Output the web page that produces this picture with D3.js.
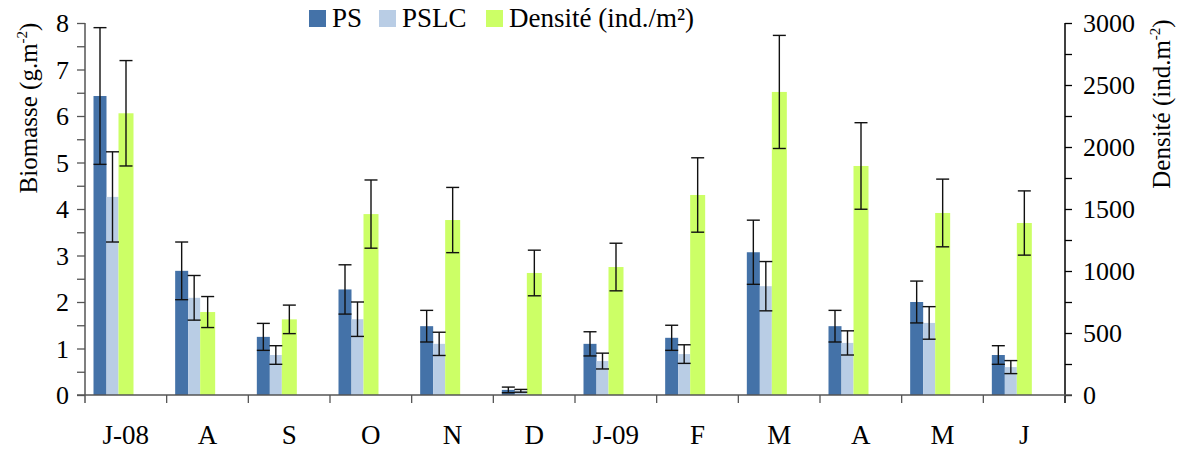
<!DOCTYPE html>
<html>
<head>
<meta charset="utf-8">
<script src="https://cdn.jsdelivr.net/npm/d3@7"></script>
<style>
  body { margin: 0; background: #fff; }
  svg text { font-family: "Liberation Serif", "Times New Roman", serif; fill: #000; }
</style>
</head>
<body>
<div id="chart"></div>
<script>
// ---- data ----
const months   = ["J-08", "A", "S", "O", "N", "D", "J-09", "F", "M", "A", "M", "J"];
const ps       = [6.43, 2.67, 1.25, 2.27, 1.48, 0.11, 1.10, 1.23, 3.07, 1.48, 2.00, 0.86];
const psErr    = [1.47, 0.62, 0.29, 0.53, 0.34, 0.06, 0.26, 0.27, 0.69, 0.34, 0.45, 0.20];
const pslc     = [4.26, 2.09, 0.86, 1.63, 1.10, 0.09, 0.73, 0.88, 2.34, 1.12, 1.55, 0.60];
const pslcErr  = [0.97, 0.48, 0.20, 0.37, 0.25, 0.03, 0.17, 0.20, 0.53, 0.26, 0.35, 0.14];
const dens     = [2272, 669, 610, 1459, 1411, 984, 1032, 1613, 2444, 1847, 1468, 1387];
const densErr  = [425, 125, 115, 275, 263, 184, 192, 300, 456, 349, 273, 259];

const leftTicks  = [0, 1, 2, 3, 4, 5, 6, 7, 8];
const rightTicks = [0, 500, 1000, 1500, 2000, 2500, 3000];

// ---- layout ----
const width = 1178, height = 450;
const plot = { left: 85, right: 1065, top: 23, bottom: 395 };

const colPS   = "#4472a8";
const colPSLC = "#b9cde5";
const colDens = "#ccff66";
const tickFont  = 26;
const labelFont = 27;

const svg = d3.select("#chart").append("svg")
  .attr("width", width)
  .attr("height", height);

// months repeat (A, M) so the band scale is keyed on the index
const x = d3.scaleBand()
  .domain(d3.range(months.length))
  .range([plot.left, plot.right])
  .padding(0);

const yL = d3.scaleLinear().domain([0, 8]).range([plot.bottom, plot.top]);
const yR = d3.scaleLinear().domain([0, 3000]).range([plot.bottom, plot.top]);

// bar slots inside each month band
const series = [
  { vals: ps,   errs: psErr,   y: yL, color: colPS,   off: 8.5,  w: 13 },
  { vals: pslc, errs: pslcErr, y: yL, color: colPSLC, off: 21.5, w: 12 },
  { vals: dens, errs: densErr, y: yR, color: colDens, off: 33.5, w: 15 }
];

// bars
series.forEach(s => {
  svg.append("g").selectAll("rect")
    .data(s.vals)
    .join("rect")
    .attr("x", (d, i) => x(i) + s.off)
    .attr("width", s.w)
    .attr("y", d => s.y(d))
    .attr("height", d => plot.bottom - s.y(d))
    .attr("fill", s.color);
});

// error bars
series.forEach(s => {
  const g = svg.append("g").attr("stroke", "#111").attr("stroke-width", 1.4);
  s.vals.forEach((v, i) => {
    const cx = x(i) + s.off + s.w / 2;
    const y1 = s.y(v + s.errs[i]);
    const y2 = s.y(Math.max(0, v - s.errs[i]));
    const hw = 6.5;
    g.append("line").attr("x1", cx).attr("x2", cx).attr("y1", y1).attr("y2", y2);
    g.append("line").attr("x1", cx - hw).attr("x2", cx + hw).attr("y1", y1).attr("y2", y1);
    g.append("line").attr("x1", cx - hw).attr("x2", cx + hw).attr("y1", y2).attr("y2", y2);
  });
});

// left axis
const leftAxis = svg.append("g")
  .attr("transform", `translate(${plot.left},0)`)
  .call(d3.axisLeft(yL).tickValues(d3.range(0, 8.01, 0.5)).tickSize(8).tickFormat(""));
leftAxis.select(".domain").remove();
leftAxis.selectAll("line").attr("stroke", "#555").attr("stroke-width", 1.3);
svg.append("line")
  .attr("x1", plot.left).attr("x2", plot.left)
  .attr("y1", plot.top).attr("y2", plot.bottom + 8)
  .attr("stroke", "#555").attr("stroke-width", 1.5);
svg.append("g").selectAll("text")
  .data(leftTicks)
  .join("text")
  .attr("x", plot.left - 16)
  .attr("y", d => yL(d))
  .attr("dy", "0.35em")
  .attr("text-anchor", "end")
  .style("font-size", tickFont + "px")
  .text(d => d);

// right axis
const rightAxis = svg.append("g")
  .attr("transform", `translate(${plot.right},0)`)
  .call(d3.axisRight(yR).tickValues(d3.range(0, 3001, 250)).tickSize(7).tickFormat(""));
rightAxis.select(".domain").remove();
rightAxis.selectAll("line").attr("stroke", "#000").attr("stroke-width", 1.3);
svg.append("line")
  .attr("x1", plot.right).attr("x2", plot.right)
  .attr("y1", plot.top).attr("y2", plot.bottom + 8)
  .attr("stroke", "#000").attr("stroke-width", 1.5);
svg.append("g").selectAll("text")
  .data(rightTicks)
  .join("text")
  .attr("x", plot.right + 18)
  .attr("y", d => yR(d))
  .attr("dy", "0.35em")
  .attr("text-anchor", "start")
  .style("font-size", tickFont + "px")
  .text(d => d);

// bottom axis: baseline, boundary ticks and month labels
svg.append("line")
  .attr("x1", plot.left - 8).attr("x2", plot.right + 7)
  .attr("y1", plot.bottom).attr("y2", plot.bottom)
  .attr("stroke", "#555").attr("stroke-width", 1.5);
svg.append("g").selectAll("line")
  .data(d3.range(1, months.length))
  .join("line")
  .attr("x1", i => x(i)).attr("x2", i => x(i))
  .attr("y1", plot.bottom).attr("y2", plot.bottom + 8)
  .attr("stroke", "#555").attr("stroke-width", 1.3);
svg.append("g").selectAll("text")
  .data(months)
  .join("text")
  .attr("x", (d, i) => x(i) + x.bandwidth() / 2)
  .attr("y", 444)
  .attr("text-anchor", "middle")
  .style("font-size", labelFont + "px")
  .text(d => d);

// axis titles
const tL = svg.append("text")
  .attr("transform", "translate(37,108) rotate(-90)")
  .attr("text-anchor", "middle")
  .style("font-size", "25px");
tL.append("tspan").text("Biomasse (g.m");
tL.append("tspan").attr("dy", -10).style("font-size", "15px").text("-2");
tL.append("tspan").attr("dy", 10).text(")");

const tR = svg.append("text")
  .attr("transform", "translate(1170,104) rotate(-90)")
  .attr("text-anchor", "middle")
  .style("font-size", "25px");
tR.append("tspan").text("Densité (ind.m");
tR.append("tspan").attr("dy", -10).style("font-size", "15px").text("-2");
tR.append("tspan").attr("dy", 10).text(")");

// legend
const legendItems = [
  { label: "PS", color: colPS, x: 309 },
  { label: "PSLC", color: colPSLC, x: 379 },
  { label: "Densité (ind./m²)", color: colDens, x: 486 }
];
const legend = svg.append("g");
legendItems.forEach(item => {
  legend.append("rect")
    .attr("x", item.x).attr("y", 10)
    .attr("width", 17).attr("height", 17)
    .attr("fill", item.color);
  legend.append("text")
    .attr("x", item.x + 23).attr("y", 27)
    .style("font-size", labelFont + "px")
    .text(item.label);
});
</script>
</body>
</html>
